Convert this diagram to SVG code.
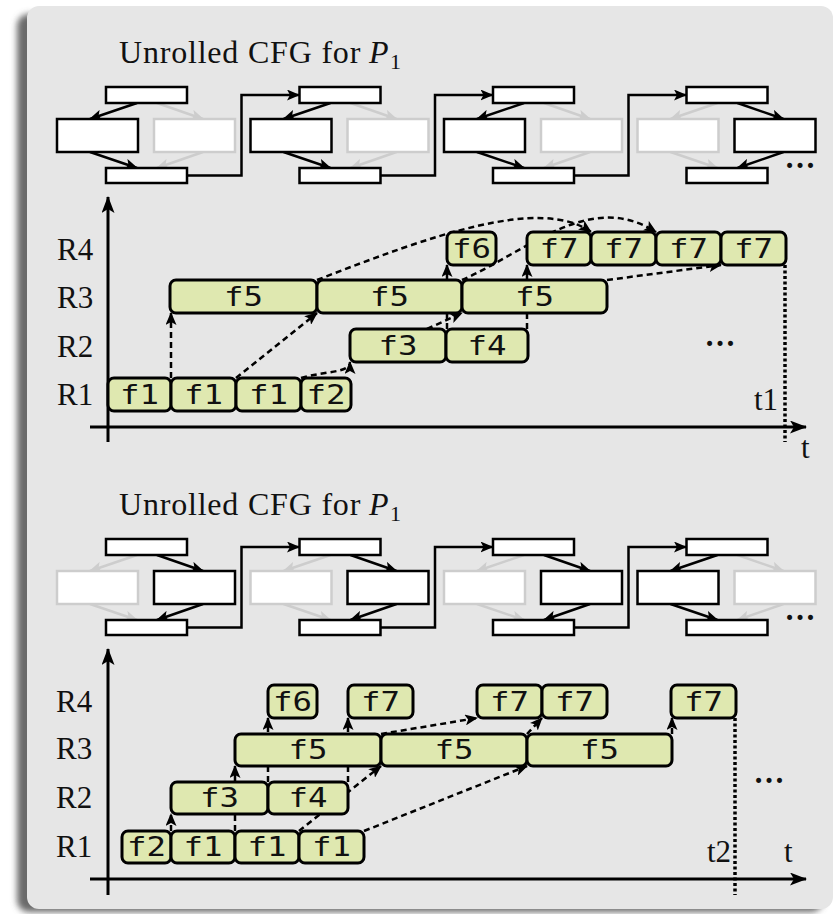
<svg xmlns="http://www.w3.org/2000/svg" width="834" height="914" viewBox="0 0 834 914">
<style>
.serif{font-family:"Liberation Serif","DejaVu Serif",serif;fill:#111}
.lbl{font-family:"Liberation Serif","DejaVu Serif",serif;font-size:31px;fill:#111}
.mono{font-family:"DejaVu Sans Mono","Liberation Mono",monospace;font-size:27px;fill:#111;text-anchor:middle}
.cb{fill:#fff;stroke:#000;stroke-width:2.5}
.cg{fill:#fff;stroke:#cdcdcd;stroke-width:2.5}
.e{fill:none;stroke:#000;stroke-width:2.5;marker-end:url(#ah)}
.eg{fill:none;stroke:#cdcdcd;stroke-width:2.5;marker-end:url(#ahg)}
.d{fill:none;stroke:#000;stroke-width:2.5;stroke-dasharray:6 4;marker-end:url(#ah)}
.dot{fill:none;stroke:#000;stroke-width:3.5;stroke-dasharray:3 2.5}
.ax{fill:none;stroke:#000;stroke-width:3;marker-end:url(#ahb)}
.bx{fill:#dfe8b0;stroke:#000;stroke-width:3}
</style>
<defs>
<filter id="sh" x="-5%" y="-5%" width="110%" height="110%"><feGaussianBlur stdDeviation="3"/></filter>
<marker id="ah" markerUnits="userSpaceOnUse" viewBox="0 0 13 11" markerWidth="13" markerHeight="11" refX="12" refY="5.5" orient="auto"><path d="M0,0 L13,5.5 L0,11 L3,5.5 z" fill="#000"/></marker>
<marker id="ahg" markerUnits="userSpaceOnUse" viewBox="0 0 13 11" markerWidth="13" markerHeight="11" refX="12" refY="5.5" orient="auto"><path d="M0,0 L13,5.5 L0,11 L3,5.5 z" fill="#cdcdcd"/></marker>
<marker id="ahb" markerUnits="userSpaceOnUse" viewBox="0 0 17 13" markerWidth="17" markerHeight="13" refX="16" refY="6.5" orient="auto"><path d="M0,0 L17,6.5 L0,13 L4,6.5 z" fill="#000"/></marker>
</defs>

<rect x="17" y="14" width="806" height="898" rx="12" fill="#6a6a6a" filter="url(#sh)"/>
<rect x="27" y="6" width="806" height="903" rx="12" fill="#e6e6e6"/>

<!-- titles -->
<text class="serif" x="119" y="63" font-size="32" letter-spacing="0.8">Unrolled CFG for<tspan x="369" font-style="italic" letter-spacing="0">P</tspan><tspan x="390" dy="6" font-size="22" letter-spacing="0">1</tspan></text>
<text class="serif" x="119" y="515" font-size="32" letter-spacing="0.8">Unrolled CFG for<tspan x="369" font-style="italic" letter-spacing="0">P</tspan><tspan x="390" dy="6" font-size="22" letter-spacing="0">1</tspan></text>

<!-- connectors -->
<g id="connectors">
  <g id="cfg1-edges">
    <path class="e" d="M137,103 L90,119"/><path class="eg" d="M157,103 L203,119"/>
    <path class="e" d="M90,152 L137,168"/><path class="eg" d="M203,152 L157,168"/>
    <path class="e" d="M187,175.5 H241.5 V95 H299"/>
    <path class="e" d="M330.5,103 L283.5,119"/><path class="eg" d="M350.5,103 L396.5,119"/>
    <path class="e" d="M283.5,152 L330.5,168"/><path class="eg" d="M396.5,152 L350.5,168"/>
    <path class="e" d="M380.5,175.5 H435 V95 H492.5"/>
    <path class="e" d="M524,103 L477,119"/><path class="eg" d="M544,103 L590,119"/>
    <path class="e" d="M477,152 L524,168"/><path class="eg" d="M590,152 L544,168"/>
    <path class="e" d="M574,175.5 H628.5 V95 H686"/>
    <path class="eg" d="M717.5,103 L670.5,119"/><path class="e" d="M737.5,103 L783.5,119"/>
    <path class="eg" d="M670.5,152 L717.5,168"/><path class="e" d="M783.5,152 L737.5,168"/>
  </g>
  <g id="cfg2-edges">
    <path class="eg" d="M137,555 L90,571"/><path class="e" d="M157,555 L203,571"/>
    <path class="eg" d="M90,604 L137,620"/><path class="e" d="M203,604 L157,620"/>
    <path class="e" d="M187,627.5 H241.5 V547 H299"/>
    <path class="eg" d="M330.5,555 L283.5,571"/><path class="e" d="M350.5,555 L396.5,571"/>
    <path class="eg" d="M283.5,604 L330.5,620"/><path class="e" d="M396.5,604 L350.5,620"/>
    <path class="e" d="M380.5,627.5 H435 V547 H492.5"/>
    <path class="eg" d="M524,555 L477,571"/><path class="e" d="M544,555 L590,571"/>
    <path class="eg" d="M477,604 L524,620"/><path class="e" d="M590,604 L544,620"/>
    <path class="e" d="M574,627.5 H628.5 V547 H686"/>
    <path class="e" d="M717.5,555 L670.5,571"/><path class="eg" d="M737.5,555 L783.5,571"/>
    <path class="e" d="M670.5,604 L717.5,620"/><path class="eg" d="M783.5,604 L737.5,620"/>
  </g>
  <g id="sched1-edges">
    <path class="d" d="M171,378 V313"/>
    <path class="d" d="M236,378 L317,313"/>
    <path class="d" d="M301,378 C325,371 350,373 350,362"/>
    <path class="d" d="M427,329 L462,313"/>
    <path class="d" d="M447,329 V265"/>
    <path class="d" d="M527,329 V265"/>
    <path class="d" d="M317,280 C430,236 540,196 591,232"/>
    <path class="d" d="M462,280 C530,250 590,190 656,232"/>
    <path class="d" d="M607,280 L721,265"/>
    <path class="dot" d="M785,265 V442"/>
  </g>
  <g id="sched2-edges">
    <path class="d" d="M171,831 V814"/>
    <path class="d" d="M235,831 V766"/>
    <path class="d" d="M268,782 V718"/>
    <path class="d" d="M348,782 V718"/>
    <path class="d" d="M299,831 L381,766"/>
    <path class="d" d="M364,831 L527,766"/>
    <path class="d" d="M381,734 L477,718"/>
    <path class="d" d="M527,734 L542,718"/>
    <path class="d" d="M672,734 V718"/>
    <path class="dot" d="M735,718 V895"/>
  </g>
</g>

<!-- axes and labels -->
<g id="axes">
  <path class="ax" d="M108,442 V197"/>
  <path class="ax" d="M90,427 H806"/>
  <path class="ax" d="M108,895 V649"/>
  <path class="ax" d="M90,879 H806"/>
  <text class="lbl" x="57" y="260">R4</text>
  <text class="lbl" x="57" y="308">R3</text>
  <text class="lbl" x="57" y="357">R2</text>
  <text class="lbl" x="57" y="405">R1</text>
  <text class="lbl" x="56" y="712">R4</text>
  <text class="lbl" x="56" y="759">R3</text>
  <text class="lbl" x="56" y="808">R2</text>
  <text class="lbl" x="56" y="857">R1</text>
  <text class="lbl" x="778" y="410" text-anchor="end">t1</text>
  <text class="lbl" x="801" y="458">t</text>
  <text class="lbl" x="731" y="862" text-anchor="end">t2</text>
  <text class="lbl" x="784" y="862">t</text>
  <text class="lbl" x="720" y="346" text-anchor="middle" font-size="36" font-weight="bold">…</text>
  <text class="lbl" x="769" y="783" text-anchor="middle" font-size="36" font-weight="bold">…</text>
  <text class="lbl" x="800" y="168" text-anchor="middle" font-size="36" font-weight="bold">…</text>
  <text class="lbl" x="800" y="620" text-anchor="middle" font-size="36" font-weight="bold">…</text>
</g>

<g id="cfg1">
  <g id="c1u1-top"><rect class="cb" x="106" y="87" width="81" height="16"/></g>
  <g id="c1u1-l"><rect class="cb" x="57" y="119" width="81" height="33"/></g>
  <g id="c1u1-r"><rect class="cg" x="154" y="119" width="81" height="33"/></g>
  <g id="c1u1-bot"><rect class="cb" x="106" y="168" width="81" height="15"/></g>
  <g id="c1u2-top"><rect class="cb" x="299.5" y="87" width="81" height="16"/></g>
  <g id="c1u2-l"><rect class="cb" x="250.5" y="119" width="81" height="33"/></g>
  <g id="c1u2-r"><rect class="cg" x="347.5" y="119" width="81" height="33"/></g>
  <g id="c1u2-bot"><rect class="cb" x="299.5" y="168" width="81" height="15"/></g>
  <g id="c1u3-top"><rect class="cb" x="493" y="87" width="81" height="16"/></g>
  <g id="c1u3-l"><rect class="cb" x="444" y="119" width="81" height="33"/></g>
  <g id="c1u3-r"><rect class="cg" x="541" y="119" width="81" height="33"/></g>
  <g id="c1u3-bot"><rect class="cb" x="493" y="168" width="81" height="15"/></g>
  <g id="c1u4-top"><rect class="cb" x="686.5" y="87" width="81" height="16"/></g>
  <g id="c1u4-l"><rect class="cg" x="637.5" y="119" width="81" height="33"/></g>
  <g id="c1u4-r"><rect class="cb" x="734.5" y="119" width="81" height="33"/></g>
  <g id="c1u4-bot"><rect class="cb" x="686.5" y="168" width="81" height="15"/></g>
</g>

<g id="cfg2">
  <g id="c2u1-top"><rect class="cb" x="106" y="539" width="81" height="16"/></g>
  <g id="c2u1-l"><rect class="cg" x="57" y="571" width="81" height="33"/></g>
  <g id="c2u1-r"><rect class="cb" x="154" y="571" width="81" height="33"/></g>
  <g id="c2u1-bot"><rect class="cb" x="106" y="620" width="81" height="15"/></g>
  <g id="c2u2-top"><rect class="cb" x="299.5" y="539" width="81" height="16"/></g>
  <g id="c2u2-l"><rect class="cg" x="250.5" y="571" width="81" height="33"/></g>
  <g id="c2u2-r"><rect class="cb" x="347.5" y="571" width="81" height="33"/></g>
  <g id="c2u2-bot"><rect class="cb" x="299.5" y="620" width="81" height="15"/></g>
  <g id="c2u3-top"><rect class="cb" x="493" y="539" width="81" height="16"/></g>
  <g id="c2u3-l"><rect class="cg" x="444" y="571" width="81" height="33"/></g>
  <g id="c2u3-r"><rect class="cb" x="541" y="571" width="81" height="33"/></g>
  <g id="c2u3-bot"><rect class="cb" x="493" y="620" width="81" height="15"/></g>
  <g id="c2u4-top"><rect class="cb" x="686.5" y="539" width="81" height="16"/></g>
  <g id="c2u4-l"><rect class="cb" x="637.5" y="571" width="81" height="33"/></g>
  <g id="c2u4-r"><rect class="cg" x="734.5" y="571" width="81" height="33"/></g>
  <g id="c2u4-bot"><rect class="cb" x="686.5" y="620" width="81" height="15"/></g>
</g>

<g id="sched1">
  <g id="s1-r1a"><rect class="bx" x="108" y="378" width="63" height="33" rx="6"/><text class="mono" x="139.5" y="404" textLength="39" lengthAdjust="spacingAndGlyphs">f1</text></g>
  <g id="s1-r1b"><rect class="bx" x="171" y="378" width="65" height="33" rx="6"/><text class="mono" x="203.5" y="404" textLength="39" lengthAdjust="spacingAndGlyphs">f1</text></g>
  <g id="s1-r1c"><rect class="bx" x="236" y="378" width="65" height="33" rx="6"/><text class="mono" x="268.5" y="404" textLength="39" lengthAdjust="spacingAndGlyphs">f1</text></g>
  <g id="s1-r1d"><rect class="bx" x="301" y="378" width="50" height="33" rx="6"/><text class="mono" x="326" y="404" textLength="39" lengthAdjust="spacingAndGlyphs">f2</text></g>
  <g id="s1-r2a"><rect class="bx" x="350" y="329" width="96" height="33" rx="6"/><text class="mono" x="398" y="355" textLength="39" lengthAdjust="spacingAndGlyphs">f3</text></g>
  <g id="s1-r2b"><rect class="bx" x="446" y="329" width="82" height="33" rx="6"/><text class="mono" x="487" y="355" textLength="39" lengthAdjust="spacingAndGlyphs">f4</text></g>
  <g id="s1-r3a"><rect class="bx" x="170" y="280" width="147" height="33" rx="6"/><text class="mono" x="243.5" y="306" textLength="39" lengthAdjust="spacingAndGlyphs">f5</text></g>
  <g id="s1-r3b"><rect class="bx" x="317" y="280" width="145" height="33" rx="6"/><text class="mono" x="389.5" y="306" textLength="39" lengthAdjust="spacingAndGlyphs">f5</text></g>
  <g id="s1-r3c"><rect class="bx" x="462" y="280" width="145" height="33" rx="6"/><text class="mono" x="534.5" y="306" textLength="39" lengthAdjust="spacingAndGlyphs">f5</text></g>
  <g id="s1-r4a"><rect class="bx" x="447" y="232" width="49" height="33" rx="6"/><text class="mono" x="471.5" y="258" textLength="39" lengthAdjust="spacingAndGlyphs">f6</text></g>
  <g id="s1-r4b"><rect class="bx" x="527" y="232" width="64" height="33" rx="6"/><text class="mono" x="559" y="258" textLength="39" lengthAdjust="spacingAndGlyphs">f7</text></g>
  <g id="s1-r4c"><rect class="bx" x="591" y="232" width="65" height="33" rx="6"/><text class="mono" x="623.5" y="258" textLength="39" lengthAdjust="spacingAndGlyphs">f7</text></g>
  <g id="s1-r4d"><rect class="bx" x="656" y="232" width="65" height="33" rx="6"/><text class="mono" x="688.5" y="258" textLength="39" lengthAdjust="spacingAndGlyphs">f7</text></g>
  <g id="s1-r4e"><rect class="bx" x="721" y="232" width="65" height="33" rx="6"/><text class="mono" x="753.5" y="258" textLength="39" lengthAdjust="spacingAndGlyphs">f7</text></g>
</g>

<g id="sched2">
  <g id="s2-r1a"><rect class="bx" x="122" y="831" width="49" height="32" rx="6"/><text class="mono" x="146.5" y="856" textLength="39" lengthAdjust="spacingAndGlyphs">f2</text></g>
  <g id="s2-r1b"><rect class="bx" x="171" y="831" width="64" height="32" rx="6"/><text class="mono" x="203" y="856" textLength="39" lengthAdjust="spacingAndGlyphs">f1</text></g>
  <g id="s2-r1c"><rect class="bx" x="235" y="831" width="64" height="32" rx="6"/><text class="mono" x="267" y="856" textLength="39" lengthAdjust="spacingAndGlyphs">f1</text></g>
  <g id="s2-r1d"><rect class="bx" x="299" y="831" width="65" height="32" rx="6"/><text class="mono" x="331.5" y="856" textLength="39" lengthAdjust="spacingAndGlyphs">f1</text></g>
  <g id="s2-r2a"><rect class="bx" x="171" y="782" width="97" height="32" rx="6"/><text class="mono" x="219.5" y="807" textLength="39" lengthAdjust="spacingAndGlyphs">f3</text></g>
  <g id="s2-r2b"><rect class="bx" x="268" y="782" width="80" height="32" rx="6"/><text class="mono" x="308" y="807" textLength="39" lengthAdjust="spacingAndGlyphs">f4</text></g>
  <g id="s2-r3a"><rect class="bx" x="235" y="734" width="146" height="32" rx="6"/><text class="mono" x="308" y="759" textLength="39" lengthAdjust="spacingAndGlyphs">f5</text></g>
  <g id="s2-r3b"><rect class="bx" x="381" y="734" width="146" height="32" rx="6"/><text class="mono" x="454" y="759" textLength="39" lengthAdjust="spacingAndGlyphs">f5</text></g>
  <g id="s2-r3c"><rect class="bx" x="527" y="734" width="145" height="32" rx="6"/><text class="mono" x="599.5" y="759" textLength="39" lengthAdjust="spacingAndGlyphs">f5</text></g>
  <g id="s2-r4a"><rect class="bx" x="268" y="685" width="49" height="33" rx="6"/><text class="mono" x="292.5" y="711" textLength="39" lengthAdjust="spacingAndGlyphs">f6</text></g>
  <g id="s2-r4b"><rect class="bx" x="348" y="685" width="65" height="33" rx="6"/><text class="mono" x="380.5" y="711" textLength="39" lengthAdjust="spacingAndGlyphs">f7</text></g>
  <g id="s2-r4c"><rect class="bx" x="477" y="685" width="65" height="33" rx="6"/><text class="mono" x="509.5" y="711" textLength="39" lengthAdjust="spacingAndGlyphs">f7</text></g>
  <g id="s2-r4d"><rect class="bx" x="542" y="685" width="65" height="33" rx="6"/><text class="mono" x="574.5" y="711" textLength="39" lengthAdjust="spacingAndGlyphs">f7</text></g>
  <g id="s2-r4e"><rect class="bx" x="671" y="685" width="65" height="33" rx="6"/><text class="mono" x="703.5" y="711" textLength="39" lengthAdjust="spacingAndGlyphs">f7</text></g>
</g>
</svg>
